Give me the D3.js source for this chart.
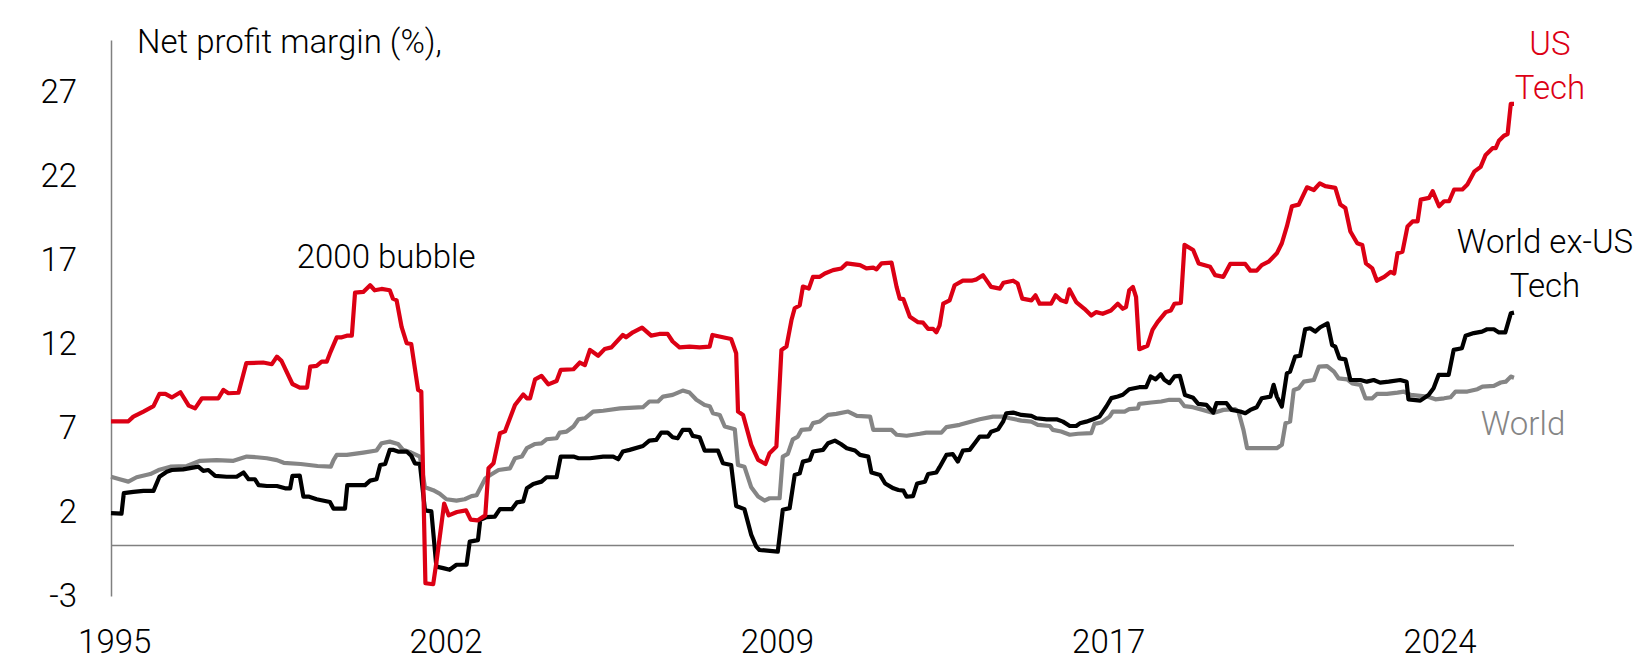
<!DOCTYPE html>
<html>
<head>
<meta charset="utf-8">
<script src="https://cdn.jsdelivr.net/npm/d3@7"></script>
<style>
  html, body { margin: 0; padding: 0; background: #fff; }
  svg { display: block; font-family: "Roboto", "Liberation Sans", sans-serif; font-weight: 300; }
</style>
</head>
<body>
<div id="chart"></div>
<script>

// Data (decimal year, net profit margin %)

var usTech = [[1995.33,7.4],[1995.71,7.4],[1995.82,7.68],[1996.04,7.98],[1996.26,8.3],[1996.39,9.03],[1996.52,9.03],[1996.66,8.82],[1996.85,9.13],[1997.03,8.33],[1997.17,8.17],[1997.32,8.77],[1997.68,8.77],[1997.79,9.27],[1997.9,9.07],[1998.12,9.1],[1998.29,10.86],[1998.66,10.9],[1998.85,10.8],[1998.96,11.25],[1999.06,11.0],[1999.3,9.62],[1999.46,9.41],[1999.62,9.41],[1999.69,10.66],[1999.83,10.7],[1999.94,10.95],[2000.05,10.95],[2000.12,11.44],[2000.27,12.4],[2000.38,12.4],[2000.49,12.5],[2000.6,12.5],[2000.67,15.06],[2000.85,15.1],[2001.0,15.5],[2001.1,15.2],[2001.25,15.28],[2001.43,15.2],[2001.5,14.7],[2001.58,14.6],[2001.69,13.0],[2001.8,12.05],[2001.9,12.0],[2002.05,9.27],[2002.12,9.17],[2002.21,-2.24],[2002.38,-2.3],[2002.45,-1.0],[2002.62,2.5],[2002.72,1.8],[2002.9,2.0],[2003.1,2.1],[2003.2,1.55],[2003.35,1.5],[2003.52,1.8],[2003.59,4.6],[2003.7,4.9],[2003.84,6.69],[2003.95,6.8],[2004.17,8.37],[2004.35,9.0],[2004.43,8.77],[2004.5,8.77],[2004.61,9.9],[2004.75,10.1],[2004.9,9.6],[2005.08,9.8],[2005.17,10.46],[2005.45,10.5],[2005.59,10.9],[2005.7,10.75],[2005.81,11.65],[2005.99,11.3],[2006.13,11.7],[2006.28,11.8],[2006.53,12.54],[2006.6,12.4],[2006.75,12.7],[2006.95,12.98],[2007.15,12.5],[2007.33,12.6],[2007.51,12.6],[2007.62,12.15],[2007.77,11.8],[2007.99,11.85],[2008.21,11.8],[2008.43,11.85],[2008.49,12.54],[2008.72,12.4],[2008.9,12.3],[2009.01,11.45],[2009.05,7.98],[2009.16,7.78],[2009.34,6.0],[2009.49,5.1],[2009.65,4.86],[2009.74,5.5],[2009.89,5.9],[2010.0,11.65],[2010.11,11.85],[2010.22,13.43],[2010.29,14.13],[2010.4,14.3],[2010.47,15.42],[2010.6,15.3],[2010.69,16.0],[2010.84,16.0],[2010.95,16.2],[2011.13,16.4],[2011.31,16.5],[2011.43,16.8],[2011.72,16.7],[2011.86,16.5],[2012.01,16.55],[2012.08,16.45],[2012.19,16.8],[2012.41,16.85],[2012.52,15.4],[2012.59,14.7],[2012.67,14.67],[2012.81,13.63],[2012.99,13.3],[2013.1,13.27],[2013.21,12.9],[2013.32,12.9],[2013.39,12.7],[2013.46,13.1],[2013.54,14.4],[2013.68,14.6],[2013.79,15.5],[2013.97,15.77],[2014.16,15.77],[2014.27,15.85],[2014.41,16.1],[2014.59,15.4],[2014.78,15.3],[2014.86,15.65],[2015.07,15.77],[2015.17,15.6],[2015.27,14.7],[2015.47,14.6],[2015.56,14.9],[2015.65,14.4],[2015.9,14.4],[2016.0,14.9],[2016.12,14.6],[2016.23,14.5],[2016.3,15.26],[2016.45,14.5],[2016.63,14.1],[2016.78,13.7],[2016.89,13.9],[2017.03,13.8],[2017.21,14.0],[2017.36,14.4],[2017.47,14.1],[2017.54,14.2],[2017.61,15.2],[2017.69,15.4],[2017.76,14.8],[2017.83,11.69],[2018.01,11.9],[2018.12,12.84],[2018.23,13.3],[2018.41,13.9],[2018.52,14.0],[2018.6,14.4],[2018.74,14.45],[2018.82,17.9],[2019.01,17.6],[2019.13,16.8],[2019.38,16.6],[2019.49,16.1],[2019.67,16.0],[2019.82,16.77],[2020.15,16.77],[2020.26,16.37],[2020.4,16.37],[2020.51,16.7],[2020.66,16.9],[2020.84,17.4],[2020.95,18.0],[2021.06,19.0],[2021.17,20.2],[2021.32,20.3],[2021.5,21.33],[2021.65,21.17],[2021.78,21.57],[2021.9,21.4],[2022.12,21.3],[2022.23,20.3],[2022.34,20.1],[2022.45,18.7],[2022.6,18.0],[2022.71,17.9],[2022.79,16.8],[2022.93,16.5],[2023.03,15.77],[2023.19,16.0],[2023.33,16.3],[2023.41,16.2],[2023.48,17.4],[2023.59,17.5],[2023.7,19.0],[2023.81,19.3],[2023.92,19.3],[2023.99,20.6],[2024.17,20.7],[2024.25,21.1],[2024.39,20.2],[2024.5,20.5],[2024.61,20.5],[2024.72,21.2],[2024.9,21.2],[2025.01,21.5],[2025.16,22.26],[2025.3,22.55],[2025.41,23.26],[2025.56,23.66],[2025.63,23.66],[2025.7,24.1],[2025.81,24.4],[2025.89,24.5],[2025.96,26.3],[2026.03,26.3]];

var worldExUsTech = [[1995.33,1.93],[1995.56,1.9],[1995.61,3.12],[1995.82,3.2],[1996.04,3.26],[1996.26,3.26],[1996.39,4.1],[1996.55,4.4],[1996.66,4.5],[1996.91,4.54],[1997.24,4.7],[1997.35,4.45],[1997.46,4.5],[1997.61,4.15],[1997.86,4.1],[1998.08,4.1],[1998.23,4.35],[1998.34,3.95],[1998.48,3.95],[1998.56,3.6],[1998.74,3.55],[1998.96,3.55],[1999.14,3.41],[1999.25,3.41],[1999.3,4.15],[1999.46,4.17],[1999.54,2.92],[1999.65,2.92],[1999.83,2.76],[2000.12,2.6],[2000.2,2.2],[2000.45,2.2],[2000.5,3.6],[2000.89,3.6],[2001.0,3.87],[2001.14,3.95],[2001.22,4.8],[2001.33,4.86],[2001.43,5.7],[2001.5,5.7],[2001.61,5.6],[2001.8,5.6],[2001.9,5.35],[2001.98,4.9],[2002.09,4.86],[2002.2,2.1],[2002.34,2.04],[2002.45,-1.25],[2002.6,-1.34],[2002.74,-1.44],[2002.89,-1.14],[2003.11,-1.14],[2003.18,0.24],[2003.36,0.33],[2003.41,1.53],[2003.55,1.7],[2003.73,1.73],[2003.84,2.17],[2004.1,2.17],[2004.21,2.57],[2004.35,2.63],[2004.43,3.41],[2004.57,3.67],[2004.75,3.81],[2004.86,4.07],[2005.08,4.07],[2005.17,5.3],[2005.45,5.3],[2005.56,5.2],[2005.81,5.2],[2006.1,5.3],[2006.32,5.3],[2006.43,5.14],[2006.53,5.6],[2006.68,5.7],[2006.97,5.93],[2007.11,6.25],[2007.26,6.29],[2007.37,6.73],[2007.51,6.73],[2007.62,6.45],[2007.73,6.39],[2007.84,6.89],[2007.99,6.89],[2008.06,6.53],[2008.21,6.45],[2008.32,5.66],[2008.61,5.66],[2008.72,4.9],[2008.9,4.8],[2009.01,2.36],[2009.19,2.17],[2009.34,0.64],[2009.45,-0.06],[2009.52,-0.26],[2009.92,-0.36],[2010.03,2.13],[2010.18,2.23],[2010.29,4.2],[2010.4,4.3],[2010.47,5.0],[2010.62,5.1],[2010.69,5.6],[2010.91,5.7],[2011.02,6.09],[2011.17,6.25],[2011.3,6.05],[2011.43,5.8],[2011.61,5.66],[2011.72,5.4],[2011.9,5.3],[2011.97,4.35],[2012.16,4.2],[2012.27,3.7],[2012.45,3.41],[2012.56,3.31],[2012.67,3.27],[2012.74,2.91],[2012.88,2.95],[2012.97,3.7],[2013.14,3.8],[2013.21,4.26],[2013.39,4.35],[2013.46,4.67],[2013.61,5.4],[2013.75,5.45],[2013.86,5.0],[2013.97,5.66],[2014.12,5.7],[2014.23,6.09],[2014.34,6.49],[2014.52,6.49],[2014.59,6.78],[2014.74,6.92],[2014.85,7.38],[2014.92,7.88],[2015.07,7.92],[2015.25,7.78],[2015.47,7.72],[2015.58,7.58],[2015.8,7.52],[2016.02,7.52],[2016.16,7.38],[2016.31,7.12],[2016.45,7.12],[2016.53,7.28],[2016.67,7.38],[2016.82,7.52],[2016.96,7.68],[2017.11,8.28],[2017.22,8.78],[2017.36,8.88],[2017.47,8.98],[2017.61,9.31],[2017.83,9.43],[2017.98,9.43],[2018.08,10.07],[2018.19,9.9],[2018.3,10.2],[2018.38,9.87],[2018.49,9.67],[2018.6,10.07],[2018.72,10.1],[2018.83,8.97],[2019.01,8.8],[2019.12,8.44],[2019.3,8.38],[2019.45,7.92],[2019.52,8.48],[2019.74,8.48],[2019.85,8.08],[2020.04,7.98],[2020.15,7.88],[2020.26,8.08],[2020.4,8.24],[2020.51,8.77],[2020.7,8.87],[2020.77,9.57],[2020.84,8.87],[2020.95,8.28],[2021.06,10.26],[2021.13,10.36],[2021.24,11.25],[2021.35,11.3],[2021.46,12.88],[2021.57,12.94],[2021.68,12.74],[2021.79,13.0],[2021.95,13.23],[2022.05,11.94],[2022.12,11.84],[2022.21,11.15],[2022.34,11.09],[2022.45,9.86],[2022.67,9.86],[2022.81,9.76],[2022.96,9.86],[2023.1,9.7],[2023.29,9.76],[2023.54,9.86],[2023.68,9.76],[2023.72,8.71],[2023.98,8.63],[2024.16,8.97],[2024.27,9.37],[2024.38,10.16],[2024.6,10.16],[2024.71,11.65],[2024.89,11.75],[2024.97,12.49],[2025.15,12.65],[2025.33,12.74],[2025.44,12.88],[2025.59,12.88],[2025.7,12.69],[2025.84,12.69],[2025.96,13.83],[2026.03,13.87]];

var world = [[1995.33,4.1],[1995.52,3.95],[1995.71,3.81],[1995.89,4.07],[1996.19,4.26],[1996.37,4.5],[1996.63,4.7],[1996.99,4.74],[1997.28,5.05],[1997.64,5.09],[1998.01,5.05],[1998.3,5.3],[1998.52,5.26],[1998.74,5.2],[1998.96,5.09],[1999.11,4.93],[1999.48,4.86],[1999.85,4.74],[2000.14,4.7],[2000.2,5.09],[2000.27,5.4],[2000.49,5.4],[2000.85,5.54],[2001.14,5.66],[2001.25,6.09],[2001.43,6.19],[2001.61,6.05],[2001.72,5.7],[2001.9,5.54],[2002.09,5.3],[2002.2,3.47],[2002.38,3.3],[2002.52,3.1],[2002.67,2.76],[2002.89,2.68],[2003.07,2.76],[2003.22,2.95],[2003.33,3.0],[2003.52,4.0],[2003.63,4.2],[2003.81,4.5],[2004.06,4.6],[2004.17,5.2],[2004.32,5.3],[2004.43,5.8],[2004.61,6.05],[2004.75,6.09],[2004.86,6.33],[2005.08,6.39],[2005.15,6.73],[2005.3,6.79],[2005.45,7.09],[2005.56,7.52],[2005.7,7.58],[2005.88,7.98],[2006.1,8.03],[2006.47,8.17],[2006.97,8.24],[2007.11,8.58],[2007.3,8.58],[2007.41,8.87],[2007.62,8.97],[2007.84,9.23],[2007.99,9.11],[2008.14,8.68],[2008.32,8.37],[2008.43,8.3],[2008.5,7.88],[2008.65,7.78],[2008.76,7.09],[2008.98,6.93],[2009.05,4.8],[2009.19,4.7],[2009.34,3.47],[2009.49,2.92],[2009.63,2.68],[2009.74,2.82],[2009.96,2.82],[2010.03,5.3],[2010.14,5.46],[2010.25,6.33],[2010.36,6.49],[2010.44,6.89],[2010.62,6.93],[2010.69,7.29],[2010.84,7.39],[2011.02,7.78],[2011.2,7.84],[2011.46,7.98],[2011.65,7.72],[2011.94,7.68],[2012.01,6.89],[2012.41,6.89],[2012.52,6.6],[2012.74,6.54],[2013.03,6.66],[2013.17,6.73],[2013.5,6.73],[2013.61,7.05],[2013.9,7.19],[2014.08,7.33],[2014.34,7.52],[2014.63,7.68],[2014.85,7.68],[2015.0,7.58],[2015.25,7.44],[2015.47,7.38],[2015.61,7.19],[2015.87,7.12],[2015.94,6.89],[2016.12,6.79],[2016.31,6.6],[2016.49,6.66],[2016.78,6.7],[2016.85,7.25],[2017.0,7.33],[2017.18,7.68],[2017.25,7.98],[2017.51,7.98],[2017.61,8.12],[2017.8,8.17],[2017.83,8.44],[2018.09,8.52],[2018.31,8.58],[2018.49,8.68],[2018.71,8.68],[2018.82,8.3],[2019.0,8.24],[2019.22,8.08],[2019.45,7.9],[2019.67,8.08],[2019.93,8.12],[2020.0,7.98],[2020.11,6.89],[2020.19,5.8],[2020.84,5.8],[2020.95,6.0],[2021.03,7.28],[2021.13,7.38],[2021.21,9.27],[2021.32,9.37],[2021.43,9.76],[2021.65,9.86],[2021.76,10.65],[2021.94,10.69],[2022.09,10.36],[2022.19,9.96],[2022.38,9.9],[2022.49,9.66],[2022.67,9.57],[2022.78,8.77],[2022.93,8.77],[2023.03,9.03],[2023.25,9.03],[2023.48,9.11],[2023.62,9.17],[2023.77,8.97],[2024.13,8.87],[2024.31,8.71],[2024.5,8.77],[2024.64,8.83],[2024.75,9.17],[2025.01,9.17],[2025.23,9.31],[2025.34,9.47],[2025.59,9.51],[2025.74,9.71],[2025.85,9.76],[2025.96,10.06],[2026.03,10.0]];

var yTicks = [-3, 2, 7, 12, 17, 22, 27];
// category-style labels every 87 months, starting at the first observation
var xTicks = [1995.40, 2002.65, 2009.90, 2017.15, 2024.40];

//----------------------------
// Canvas and scales
//----------------------------

var totwidth = 1648,
	totheight = 668,
	red = "#dc0014",
	grey = "#858585",
	axisgrey = "#808080",
	fontsize = 33;

var svg = d3.select("#chart").append("svg")
	.attr("width", totwidth)
	.attr("height", totheight);

var x = d3.scaleLinear()
	.domain([1995.33, 2026.03])
	.range([111, 1514]);

var y = d3.scaleLinear()
	.domain([-3, 30.1])
	.range([596, 40]);

// Axes

var yAxis = d3.axisLeft(y)
	.tickValues(yTicks)
	.tickFormat(function(d) { return String(d); })
	.tickSize(0)
	.tickSizeOuter(0)
	.tickPadding(34);

var gy = svg.append("g")
	.attr("transform", "translate(" + x.range()[0] + ",0)")
	.call(yAxis)
	.attr("font-family", null)
	.attr("font-size", fontsize);
gy.select(".domain").attr("stroke", axisgrey).attr("stroke-width", 1.5);
gy.selectAll("text").attr("fill", "#000");

var xAxis = d3.axisBottom(x)
	.tickValues(xTicks)
	.tickFormat(function(d) { return Math.floor(d); })
	.tickSize(0)
	.tickPadding(34);

var gx = svg.append("g")
	.attr("transform", "translate(0," + y.range()[0] + ")")
	.call(xAxis)
	.attr("font-family", null)
	.attr("font-size", fontsize);
gx.select(".domain").remove();
gx.selectAll("text").attr("fill", "#000");

// Zero line

svg.append("line")
	.attr("x1", x.range()[0])
	.attr("x2", x.range()[1])
	.attr("y1", y(0))
	.attr("y2", y(0))
	.attr("stroke", axisgrey)
	.attr("stroke-width", 1.5);

//----------------------------
// Lines
//----------------------------

var linefun = d3.line()
	.x(function(d) { return x(d[0]); })
	.y(function(d) { return y(d[1]); });

var series = [
	{data: world, colour: grey},
	{data: worldExUsTech, colour: "#000"},
	{data: usTech, colour: red}
];

svg.append("g")
	.selectAll("path").data(series).enter().append("path")
		.attr("fill", "none")
		.attr("stroke", function(d) { return d.colour; })
		.attr("stroke-width", 4.2)
		.attr("stroke-linejoin", "round")
		.attr("d", function(d) { return linefun(d.data); });

//----------------------------
// Text
//----------------------------

svg.append("text")
	.attr("x", 137)
	.attr("y", 53)
	.attr("font-size", fontsize)
	.text("Net profit margin (%),");

svg.append("text")
	.attr("x", x(2001.35))
	.attr("y", y(16.5))
	.attr("text-anchor", "middle")
	.attr("font-size", fontsize)
	.text("2000 bubble");

var labels = [
	{lines: ["US", "Tech"], cx: 1550, top: 55, colour: red},
	{lines: ["World ex-US", "Tech"], cx: 1545, top: 253, colour: "#000"},
	{lines: ["World"], cx: 1523, top: 435, colour: grey}
];

labels.forEach(function(l) {
	var t = svg.append("text")
		.attr("text-anchor", "middle")
		.attr("font-size", fontsize)
		.attr("fill", l.colour);
	l.lines.forEach(function(s, i) {
		t.append("tspan")
			.attr("x", l.cx)
			.attr("y", l.top + i * 44)
			.text(s);
	});
});

</script>
</body>
</html>
